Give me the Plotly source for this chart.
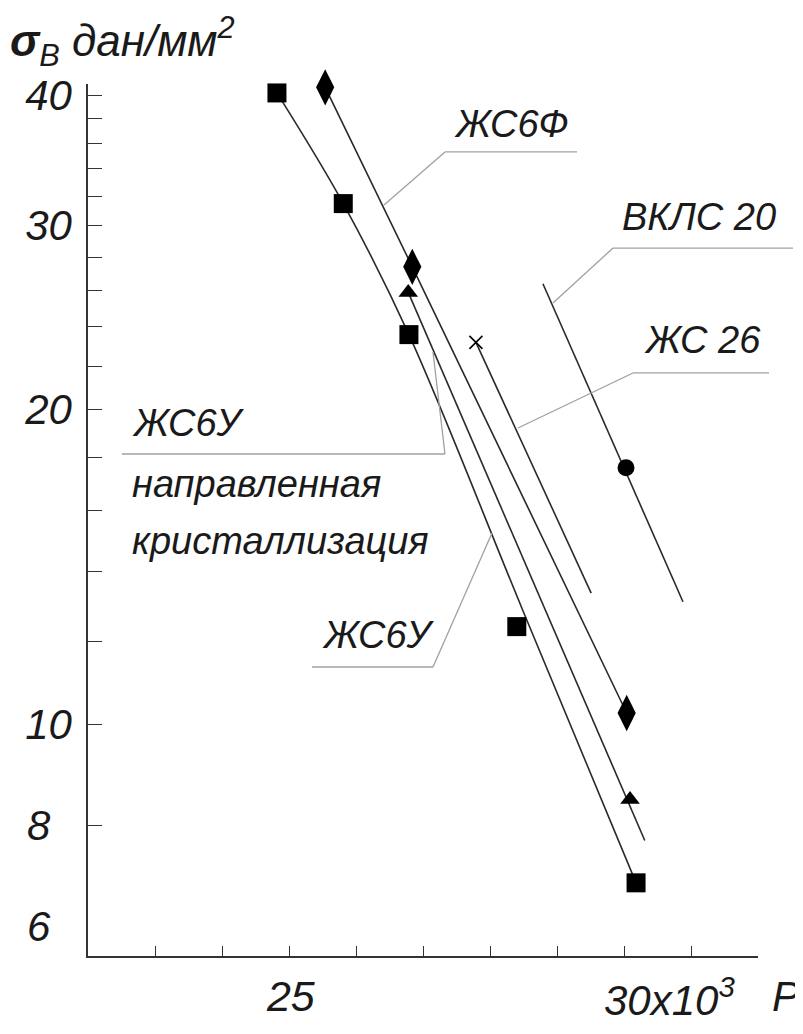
import math
import plotly.graph_objects as go

# ---------------- data ----------------
# ЖС6У  (squares)
zs6u_x = [24.82, 25.81, 26.79, 28.40, 30.18]
zs6u_y = [40.2, 31.5, 23.6, 12.4, 7.05]
zs6u_curve_x = [24.82, 25.81, 26.79, 28.49, 30.18]
zs6u_curve_y = [40.2, 31.5, 23.6, 12.85, 7.05]

# ЖС6Ф (diamonds)
zs6f_x = [25.54, 26.84, 30.04]
zs6f_y = [40.7, 27.4, 10.25]

# ЖС6У направленная кристаллизация (triangles)
zs6u_nk_x = [26.78, 30.09]
zs6u_nk_y = [25.9, 8.47]
zs6u_nk_line_x = [26.78, 30.31]
zs6u_nk_line_y = [25.9, 7.74]

# ЖС 26 (cross)
zs26_x = [27.79]
zs26_y = [23.2]
zs26_line_x = [27.79, 29.51]
zs26_line_y = [23.2, 13.35]

# ВКЛС 20 (circle)
vkls_x = [30.03]
vkls_y = [17.6]
vkls_line_x = [28.79, 30.88]
vkls_line_y = [26.4, 13.1]

# axis ticks
x_tickvals = [23, 24, 25, 26, 27, 28, 29, 30, 31, 32]
x_ticktext = ["", "", "\u200a25", "", "", "", "", "", "", ""]
y_tickvals = [8, 10, 12, 14, 16, 18, 20, 22, 24, 26, 28, 30, 32, 34, 36, 38, 40]
y_ticktext = ["", "10", "", "", "", "", "20", "", "", "", "", "30", "", "", "", "", "40"]

# ---------------- styling ----------------
FONT = "Liberation Sans, Arial, sans-serif"
INK = "#1a1a1a"
LINE = "#2a2a2a"
LEAD = "#a0a0a0"

fig = go.Figure()

def line(x, y, shape="linear"):
    fig.add_trace(go.Scatter(x=x, y=y, mode="lines", line=dict(color=LINE, width=1.6, shape=shape),
                             hoverinfo="skip", showlegend=False))

def marks(x, y, symbol, size):
    fig.add_trace(go.Scatter(x=x, y=y, mode="markers", cliponaxis=False,
                             marker=dict(symbol=symbol, size=size, color="black",
                                         line=dict(width=0 if "thin" not in symbol else 1.6, color="black")),
                             showlegend=False))

line(zs6u_curve_x, zs6u_curve_y, shape="spline")
line(zs6f_x, zs6f_y)
line(zs6u_nk_line_x, zs6u_nk_line_y)
line(zs26_line_x, zs26_line_y)
line(vkls_line_x, vkls_line_y)

marks(zs6u_x, zs6u_y, "square", 19)
marks(zs6f_x, zs6f_y, "diamond-tall", 26)
marks(zs6u_nk_x, zs6u_nk_y, "triangle-up", 17)
marks(zs26_x, zs26_y, "x-thin", 13)
marks(vkls_x, vkls_y, "circle", 17)

# plot area: 872 px tall (range 6..41 on log axis); paper coords below measured for 864 px (6..40.27)
H_OLD, H_NEW = 864.0, 872.0
def py(v):
    return v * H_OLD / H_NEW

# leader lines (paper coordinates)
leaders = [
    [(0.7299, 0.9306), (0.5328, 0.9306), (0.4418, 0.8692)],   # ЖС6Ф
    [(1.0522, 0.8194), (0.7836, 0.8194), (0.6940, 0.7558)],   # ВКЛС 20
    [(1.0164, 0.6748), (0.8134, 0.6748), (0.6418, 0.6111)],   # ЖС 26
    [(0.0507, 0.5810), (0.5328, 0.5810), (0.5149, 0.6991)],   # ЖС6У напр. крист.
    [(0.3343, 0.3345), (0.5149, 0.3345), (0.6030, 0.4896)],   # ЖС6У
]
shapes = []
for pts in leaders:
    for (x0, y0), (x1, y1) in zip(pts[:-1], pts[1:]):
        shapes.append(dict(type="line", xref="paper", yref="paper", x0=x0, y0=py(y0), x1=x1, y1=py(y1),
                           line=dict(color=LEAD, width=1.3)))

def ann(text, x, y, size=38, xanchor="left", yanchor="middle", yref="paper"):
    yy = py(y) if yref == "paper" else y
    return dict(text=text, x=x, y=yy, xref="paper", yref=yref, xanchor=xanchor, yanchor=yanchor,
                showarrow=False, font=dict(family=FONT, size=size, color=INK, style="italic"))

annotations = [
    ann("ЖС6Ф", 0.5433, 0.963),
    ann("ВКЛС 20", 0.794, 0.8553),
    ann("ЖС 26", 0.8269, 0.713),
    ann("ЖС6У", 0.0627, 0.6169),
    ann("направленная", 0.0627, 0.5463),
    ann("кристаллизация", 0.0627, 0.4803),
    ann("ЖС6У", 0.3463, 0.3715),
    ann("<b>σ</b><sub>B</sub> дан/мм<sup>2</sup>", -0.119, 1.058, size=44),
    ann("30x10<sup>3</sup>", 0.767, -0.048, size=42),
    ann("P", 1.0418, -0.0463, size=42, xanchor="center"),
    ann("8", -0.0522, math.log10(8), size=42, xanchor="right", yref="y"),
    ann("6", -0.0522, 0.0336, size=42, xanchor="right"),
]

# the page adds an 8px body margin, so the figure is 8px smaller and top/left margins shifted
fig.update_layout(
    width=795, height=1026,
    margin=dict(l=80, r=45, t=76, b=78),
    paper_bgcolor="white", plot_bgcolor="white",
    shapes=shapes, annotations=annotations,
    xaxis=dict(range=[22, 32], showline=True, linecolor="#333", linewidth=1.5,
               ticks="inside", ticklen=10, tickwidth=1.3, tickcolor="#333",
               tickvals=x_tickvals, ticktext=x_ticktext, showgrid=False, zeroline=False,
               tickfont=dict(family=FONT, size=43, color=INK, style="italic"),
               ticklabelstandoff=2, automargin=False),
    yaxis=dict(type="log", range=[math.log10(6), math.log10(41.0)], showline=True,
               linecolor="#333", linewidth=1.5, ticks="inside", ticklen=14, tickwidth=1.3,
               tickcolor="#333", tickvals=y_tickvals, ticktext=y_ticktext,
               showgrid=False, zeroline=False,
               tickfont=dict(family=FONT, size=42, color=INK, style="italic"),
               ticklabelstandoff=6, automargin=False),
)

fig.write_html("out.html")
